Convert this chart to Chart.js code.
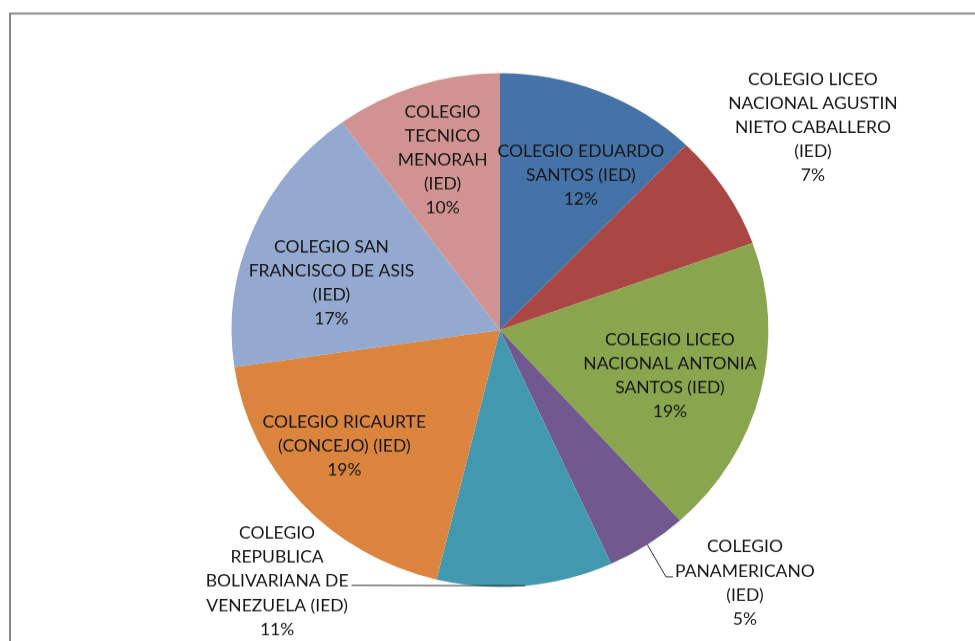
<!DOCTYPE html>
<html><head><meta charset="utf-8">
<script src="https://cdn.jsdelivr.net/npm/chart.js@4"></script>
<style>html,body{margin:0;padding:0;background:#fff;overflow:hidden}canvas{display:block}</style>
</head>
<body>
<canvas id="c" width="975" height="670" style="width:975px;height:641px"></canvas>
<script>
// ---- data ----
const categories = [
  ['COLEGIO EDUARDO', 'SANTOS (IED)'],
  ['COLEGIO LICEO', 'NACIONAL AGUSTIN', 'NIETO CABALLERO', '(IED)'],
  ['COLEGIO LICEO', 'NACIONAL ANTONIA', 'SANTOS (IED)'],
  ['COLEGIO', 'PANAMERICANO', '(IED)'],
  ['COLEGIO', 'REPUBLICA', 'BOLIVARIANA DE', 'VENEZUELA (IED)'],
  ['COLEGIO RICAURTE', '(CONCEJO) (IED)'],
  ['COLEGIO SAN', 'FRANCISCO DE ASIS', '(IED)'],
  ['COLEGIO', 'TECNICO', 'MENORAH', '(IED)']
];
const shares = [12.2, 7.3, 18.8, 4.9, 10.6, 18.9, 17.3, 10.0];
const colors = ['#4572A7', '#AA4643', '#89A54E', '#71588F', '#4198AF', '#DB843D', '#93A9CF', '#D19392'];

// ---- label placement (angle offset from slice middle in degrees, radius fraction) ----
const labelPlacement = [
  {da: 4.6, rf: 0.674},
  {da: -1.1, rf: 1.407},
  {da: 1.8, rf: 0.658},
  {da: -9.5, rf: 1.343, leader: 'elbow'},
  {da: 45.7, rf: 1.284, leader: 'flat', anchorLine: 2},
  {da: 4.4, rf: 0.735},
  {da: -6.6, rf: 0.654},
  {da: 0.1, rf: 0.696}
];
const FONT = '17.5px Lato, "Liberation Sans", sans-serif';
const LINE_H = 25.1;

const framePlugin = {
  id: 'frame',
  beforeDraw(chart) {
    const ctx = chart.ctx;
    ctx.save();
    ctx.strokeStyle = '#878787';
    ctx.lineWidth = 2;
    ctx.strokeRect(10, 14.2, 2000, 2000);
    ctx.restore();
  }
};

const labelPlugin = {
  id: 'sliceLabels',
  afterDatasetsDraw(chart) {
    const ctx = chart.ctx;
    const meta = chart.getDatasetMeta(0);
    const data = chart.data.datasets[0].data;
    const total = data.reduce((a, b) => a + b, 0);
    ctx.save();
    ctx.font = FONT;
    ctx.fillStyle = '#161616';
    ctx.textAlign = 'center';
    ctx.textBaseline = 'middle';
    meta.data.forEach((arc, i) => {
      const {x, y, startAngle, endAngle, outerRadius} =
        arc.getProps(['x', 'y', 'startAngle', 'endAngle', 'outerRadius'], true);
      const mid = (startAngle + endAngle) / 2;
      const p = labelPlacement[i];
      const a = mid + p.da * Math.PI / 180;
      const cx = x + Math.cos(a) * outerRadius * p.rf;
      const cy = y + Math.sin(a) * outerRadius * p.rf;
      const lines = categories[i].concat([Math.round(data[i] / total * 100) + '%']);
      const n = lines.length;
      const widths = lines.map(t => ctx.measureText(t).width);
      const maxW = Math.max(...widths);
      lines.forEach((t, j) => ctx.fillText(t, cx, cy + (j - (n - 1) / 2) * LINE_H));
      if (p.leader) {
        const ex = x + Math.cos(mid) * outerRadius;
        const ey = y + Math.sin(mid) * outerRadius;
        ctx.save();
        ctx.strokeStyle = '#2a2a2a';
        ctx.lineWidth = 1;
        ctx.beginPath();
        if (p.leader === 'elbow') {
          const ly = cy + (1 - (n - 1) / 2) * LINE_H + 6;
          const left = cx - maxW / 2;
          ctx.moveTo(ex, ey);
          ctx.lineTo(left - 9, ly);
          ctx.lineTo(left - 2, ly);
        } else {
          const k = p.anchorLine;
          const ly = cy + (k - (n - 1) / 2) * LINE_H + 4;
          const right = cx + widths[k] / 2;
          ctx.moveTo(right + 3, ly);
          ctx.lineTo(ex, ey);
        }
        ctx.stroke();
        ctx.restore();
      }
    });
    ctx.restore();
  }
};

new Chart(document.getElementById('c'), {
  type: 'pie',
  data: {
    labels: categories,
    datasets: [{
      data: shares,
      backgroundColor: colors,
      borderWidth: 0,
      hoverOffset: 0,
      offset: 0
    }]
  },
  options: {
    responsive: false,
    animation: false,
    events: [],
    layout: {padding: {left: 231.6, right: 206.6, top: 76.6, bottom: 56.6}},
    plugins: {legend: {display: false}, tooltip: {enabled: false}}
  },
  plugins: [framePlugin, labelPlugin]
});
</script>
</body></html>
